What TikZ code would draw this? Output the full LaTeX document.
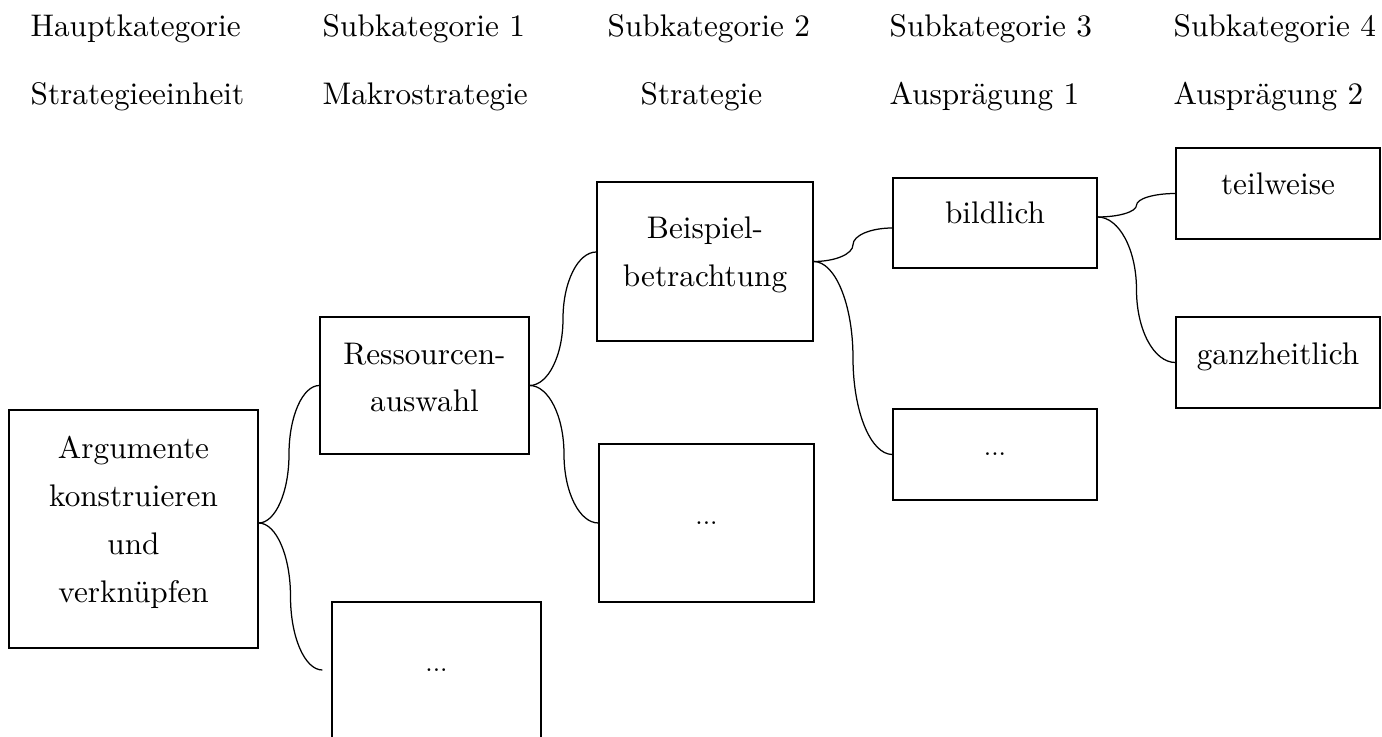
\documentclass[tikz,border=0pt]{standalone}
\usepackage{fontspec}
\usetikzlibrary{calc}
\begin{document}
\begin{tikzpicture}[x=0.32pt,y=0.32pt,
  box/.style 2 args={draw, line width=0.4pt, inner sep=0pt,
    minimum width=#1*0.32pt, minimum height=#2*0.32pt},
  txt/.style={anchor=base, inner sep=0pt},
  head/.style={anchor=base west, inner sep=0pt},
  more/.style={anchor=base, inner sep=0pt, font=\footnotesize},
  link/.style={line width=0.4pt},
  % two quarter-ellipse arcs meeting vertically half way, like a brace
  brace/.style={to path={
    let \p1=(\tikztostart), \p2=(\tikztotarget), \p3=($(\p1)!.5!(\p2)$) in
    .. controls ($(\p1)!.552!(\x3,\y1)$) and ($(\p3)!.552!(\x3,\y1)$) .. (\p3)
    .. controls ($(\p3)!.552!(\x3,\y2)$) and ($(\p2)!.552!(\x3,\y2)$) .. (\p2)}}]
\useasboundingbox (0,0) rectangle (1382,-737);

% column headings
\node[head] (h1a) at (30,-37)   {Hauptkategorie};
\node[head] (h2a) at (322,-37)  {Subkategorie 1};
\node[head] (h3a) at (607,-37)  {Subkategorie 2};
\node[head] (h4a) at (889,-37)  {Subkategorie 3};
\node[head] (h5a) at (1173,-37) {Subkategorie 4};
\node[head] (h1b) at (30,-105)   {Strategieeinheit};
\node[head] (h2b) at (322,-105)  {Makrostrategie};
\node[head] (h3b) at (640,-105)  {Strategie};
\node[head] (h4b) at (889,-105)  {Ausprägung 1};
\node[head] (h5b) at (1173,-105) {Ausprägung 2};

% boxes of the category tree
\node[box={249}{238}] (A)  at (133.5,-529)  {};
\node[box={209}{137}] (R)  at (424.5,-385.5) {};
\node[box={209}{136}] (D1) at (436.5,-670)  {};
\node[box={216}{159}] (B)  at (705,-261.5)  {};
\node[box={215}{158}] (D2) at (706.5,-523)  {};
\node[box={204}{90}]  (C)  at (995,-223)    {};
\node[box={204}{91}]  (D3) at (995,-454.5)  {};
\node[box={204}{91}]  (T)  at (1278,-193.5) {};
\node[box={204}{91}]  (G)  at (1278,-362.5) {};

% box labels
\node[txt] (A1) at (133.5,-459) {Argumente};
\node[txt] (A2) at (133.5,-507) {konstruieren};
\node[txt] (A3) at (133.5,-555) {und};
\node[txt] (A4) at (133.5,-603) {verknüpfen};
\node[txt] (R1) at (424.5,-365) {Ressourcen-};
\node[txt] (R2) at (424.5,-412) {auswahl};
\node[txt] (B1) at (705,-239) {Beispiel-};
\node[txt] (B2) at (705,-287) {betrachtung};
\node[txt] (C1) at (995,-224) {bildlich};
\node[txt] (T1) at (1278,-195) {teilweise};
\node[txt] (G1) at (1278,-365) {ganzheitlich};
\node[more] (D1t) at (436.5,-671.5) {...};
\node[more] (D2t) at (706.5,-524.5) {...};
\node[more] (D3t) at (995,-456)     {...};

% connection points
\coordinate (Aout) at ($(A.east)+(0,6)$);
\coordinate (D1in) at ($(D1.west)+(-9,0)$);
\coordinate (Bin)  at ($(B.west)+(0,9.5)$);
\coordinate (Cin)  at ($(C.west)+(0,-5)$);
\coordinate (Cout) at ($(C.east)+(0,6)$);

% brace-like connectors
\draw[link] (Aout) to[brace] (R.west);
\draw[link] (Aout) to[brace] (D1in);
\draw[link] (R.east) to[brace] (Bin);
\draw[link] (R.east) to[brace] (D2.west);
\draw[link] (B.east) to[brace] (Cin);
\draw[link] (B.east) to[brace] (D3.west);
\draw[link] (Cout) to[brace] (T.west);
\draw[link] (Cout) to[brace] (G.west);
\end{tikzpicture}
\end{document}
